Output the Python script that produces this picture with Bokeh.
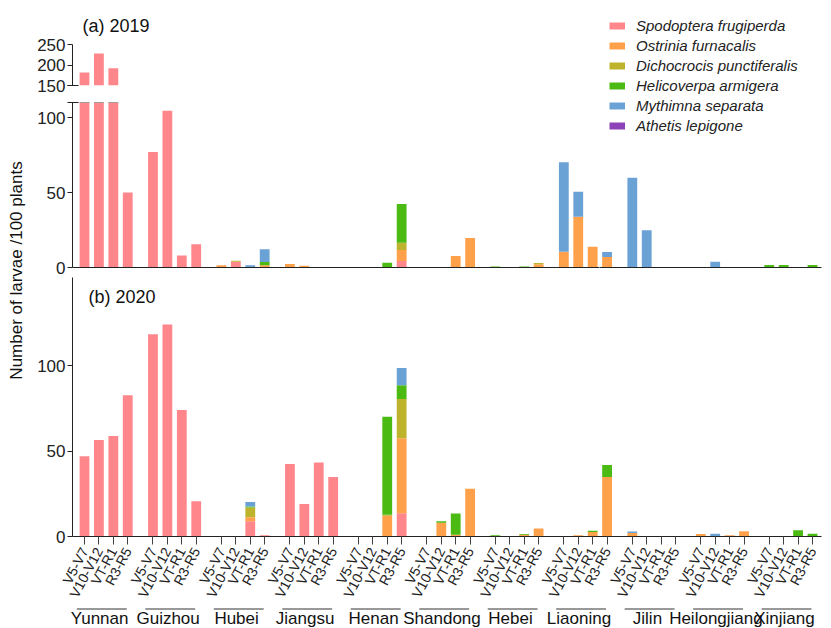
import math
from bokeh.plotting import figure
from bokeh.models import Range1d, FixedTicker, Label, Legend, LegendItem, ColumnDataSource
from bokeh.layouts import row, column
from bokeh.embed import file_html
from bokeh.resources import INLINE
from bokeh.core.properties import value

provinces = ["Yunnan", "Guizhou", "Hubei", "Jiangsu", "Henan", "Shandong",
             "Hebei", "Liaoning", "Jilin", "Heilongjiang", "Xinjiang"]
stages = ["V5-V7", "V10-V12", "VT-R1", "R3-R5"]
species = ["Spodoptera frugiperda", "Ostrinia furnacalis", "Dichocrocis punctiferalis",
           "Helicoverpa armigera", "Mythimna separata", "Athetis lepigone"]
colors = ["#FF878C", "#FFA04B", "#BDB32C", "#4BBA12", "#6BA2D6", "#8E42B8"]

# values per province (rows) and growth stage (V5-V7, V10-V12, VT-R1, R3-R5)
# ---------------- 2019 ----------------
sf_2019 = [182, 228, 192, 50,   77, 104.5, 8, 15.5,   0, 3.8, 0, 0,   0, 0, 0, 0,
           0, 0, 0, 4.3,   0, 0, 0, 0,   0, 0, 0, 0,   0, 0, 0, 0,
           0, 0, 0, 0,   0, 0, 0, 0,   0, 0, 0, 0]
of_2019 = [0, 0, 0, 0,   0, 0, 0, 0,   1.5, 0, 0, 1.5,   2.3, 1.1, 0, 0,
           0, 0, 0, 7.3,   0, 0, 7.6, 19.6,   0, 0, 0, 2.2,   10.5, 33.8, 13.8, 7,
           0, 0, 0, 0,   0, 0, 0, 0,   0, 0, 0, 0]
dp_2019 = [0, 0, 0, 0,   0, 0, 0, 0,   0, 0.7, 0, 0,   0, 0, 0, 0,
           0, 0, 0, 4.9,   0, 0, 0, 0,   0, 0, 0, 0.8,   0, 0, 0, 0,
           0, 0, 0, 0,   0, 0, 0, 0,   0, 0, 0, 0]
ha_2019 = [0, 0, 0, 0,   0, 0, 0, 0,   0, 0, 0, 2.2,   0, 0, 0, 0,
           0, 0, 3.2, 25.8,   0, 0, 0, 0,   0.7, 0, 0.7, 0,   0, 0, 0, 0,
           0, 0, 0, 0,   0, 0, 0, 0,   1.6, 1.6, 0, 1.6]
ms_2019 = [0, 0, 0, 0,   0, 0, 0, 0,   0, 0, 1.5, 8.4,   0, 0, 0, 0,
           0, 0, 0, 0,   0, 0, 0, 0,   0, 0, 0, 0,   59.7, 16.7, 0, 3.4,
           59.8, 24.9, 0, 0,   0, 3.8, 0, 0,   0, 0, 0, 0]
al_2019 = [0] * 44

# ---------------- 2020 ----------------
sf_2020 = [47, 56.5, 58.8, 82.6,   118.3, 124, 74, 20.6,   0, 0, 8.9, 0.8,   42.4, 19, 43.3, 34.8,
           0, 0, 0, 13.6,   0, 0, 0, 0,   0, 0, 0, 0,   0, 0, 0, 0,
           0, 0, 0, 0,   0, 0, 0, 0,   0, 0, 0, 0]
of_2020 = [0, 0, 0, 0,   0, 0, 0, 0,   0, 0, 2.3, 0,   0, 0, 0, 0,
           0, 0, 12.2, 43.9,   0, 8, 1, 28,   0, 0, 1, 4.7,   0, 0.8, 2.7, 34.8,
           2, 0, 0, 0,   1.5, 0, 0.8, 3,   0, 0, 0, 0]
dp_2020 = [0, 0, 0, 0,   0, 0, 0, 0,   0, 0, 5.8, 0,   0, 0, 0, 0,
           0, 0, 0.5, 22.9,   0, 0, 0, 0,   0, 0, 0, 0,   0, 0, 0, 0,
           0, 0, 0, 0,   0, 0, 0, 0,   0, 0, 0, 0]
ha_2020 = [0, 0, 0, 0,   0, 0, 0, 0,   0, 0, 0.5, 0,   0, 0, 0, 0,
           0, 0, 57.3, 8.1,   0, 0.9, 12.4, 0,   0.8, 0, 0.5, 0,   0, 0, 0.6, 7.1,
           0, 0, 0, 0,   0, 0, 0, 0,   0, 0, 3.7, 1.6]
ms_2020 = [0, 0, 0, 0,   0, 0, 0, 0,   0, 0, 2.7, 0,   0, 0, 0, 0,
           0, 0, 0, 10.1,   0, 0, 0, 0,   0, 0, 0, 0,   0, 0, 0, 0,
           0.9, 0, 0, 0,   0, 1.6, 0, 0,   0, 0, 0, 0]
al_2020 = [0] * 44

y_ticks_low = [0, 50, 100]
y_ticks_up = [150, 200, 250]
break_low = 110      # top of the lower (broken) axis segment
break_up = 150       # bottom of the upper axis segment

# ---------------- layout constants (page pixels) ----------------
FONT = "Liberation Sans"
INK = "#222222"
PX_PER_UNIT = 14.416   # horizontal pixels per bar slot
X_FIRST = 84.0         # page x of the first bar centre
GROUP_STEP = 4.75      # slots from one province to the next
BAR_W = 0.68
PAGE_W, PAGE_H = 831, 628
FRAME_L, FRAME_R, SPLIT = 72, 821, 599
COL_X = 30             # page x where the figure column starts
MAIN_W = PAGE_W - COL_X
UP_BOTTOM = 94         # page y where the upper-segment canvas ends
A_BOTTOM = 277         # page y where panel (a) canvases end
FB_BOTTOM = 607        # page y where the stage-label area ends


def ux(px):
    return (px - X_FIRST) / PX_PER_UNIT


keys = ["sf", "of", "dp", "ha", "ms", "al"]
xs = [g * GROUP_STEP + s for g in range(len(provinces)) for s in range(len(stages))]
data19 = dict(x=xs, **dict(zip(keys, [sf_2019, of_2019, dp_2019, ha_2019, ms_2019, al_2019])))
data20 = dict(x=xs, **dict(zip(keys, [sf_2020, of_2020, dp_2020, ha_2020, ms_2020, al_2020])))
totals19 = [sum(data19[k][i] for k in keys) for i in range(len(xs))]


def subset(d, idx):
    return ColumnDataSource({k: [v[i] for i in idx] for k, v in d.items()})


idx_left = [i for i, x in enumerate(xs) if x < ux(SPLIT)]
idx_right = [i for i, x in enumerate(xs) if x > ux(SPLIT)]
idx_up = [i for i in idx_left if totals19[i] > break_up]


def make_fig(width, height, xr, yr, left, right, top, bottom, show_x=True, show_y=True):
    p = figure(width=width, height=height, x_range=xr, y_range=yr, title=None,
               output_backend="svg", toolbar_location=None,
               min_border_left=left, min_border_right=right,
               min_border_top=top, min_border_bottom=bottom)
    p.xgrid.visible = False
    p.ygrid.visible = False
    p.outline_line_color = None
    p.background_fill_color = "white"
    p.border_fill_color = "white"
    if not show_x:
        p.xaxis.visible = False
    if not show_y:
        p.yaxis.visible = False
    return p


def style_yaxis(ax, ticks, minor):
    ax.ticker = FixedTicker(ticks=ticks, minor_ticks=minor)
    ax.axis_line_color = INK
    ax.major_tick_line_color = INK
    ax.minor_tick_line_color = INK
    ax.major_tick_out = 5
    ax.major_tick_in = 0
    ax.minor_tick_out = 5
    ax.minor_tick_in = 6
    ax.major_label_text_font = FONT
    ax.major_label_text_font_size = "17px"
    ax.major_label_text_color = INK
    ax.major_label_standoff = 2


def bare_xaxis(ax):
    ax.ticker = FixedTicker(ticks=[], minor_ticks=[])
    ax.axis_line_color = INK
    ax.major_tick_out = 0
    ax.major_tick_in = 0
    ax.minor_tick_out = 0
    ax.minor_tick_in = 0
    ax.major_label_standoff = 0


def bars(p, src):
    return p.vbar_stack(keys, x="x", width=BAR_W, color=colors, line_color=None, source=src)


# ---------------- panel (a) 2019 : broken axis ----------------
xr_left = Range1d(ux(FRAME_L), ux(SPLIT))
xr_right = Range1d(ux(SPLIT), ux(FRAME_R))
wl = SPLIT - COL_X
wr = MAIN_W - wl

# upper segment: 150 .. 250 at 0.41 px per unit, frame from page y 0 to 85
up_h = 85
fa_up = make_fig(wl, UP_BOTTOM, xr_left, Range1d(break_up, break_up + up_h / 0.41),
                 FRAME_L - COL_X, 0, 0, UP_BOTTOM - up_h, show_x=False)
bars(fa_up, subset(data19, idx_up))
style_yaxis(fa_up.yaxis[0], y_ticks_up, [break_up])
fa_up.yaxis[0].bounds = (break_up, 250)
fa_up.add_layout(Label(x=10, y=60, x_units="screen", y_units="screen", text="(a) 2019",
                       text_font=FONT, text_font_size="18px", text_color="#111111",
                       text_baseline="middle"))

# lower segment: 0 .. 110 at 1.5 px per unit, frame from page y 102 to 267
fa_low = make_fig(wl, A_BOTTOM - UP_BOTTOM, xr_left, Range1d(0, break_low), FRAME_L - COL_X, 0,
                  102 - UP_BOTTOM, A_BOTTOM - 267)
bars(fa_low, subset(data19, idx_left))
style_yaxis(fa_low.yaxis[0], y_ticks_low, [break_low])
fa_low.yaxis[0].bounds = (0, break_low)
bare_xaxis(fa_low.xaxis[0])

# right part of panel (a), same scale as the lower segment, holds the legend
fa_r = make_fig(wr, A_BOTTOM, xr_right, Range1d(0, 267 / 1.5), 0, PAGE_W - FRAME_R, 0,
                A_BOTTOM - 267, show_y=False)
bars(fa_r, subset(data19, idx_right))
bare_xaxis(fa_r.xaxis[0])
items = []
for name, c in zip(species, colors):
    r = fa_r.line(x=[float("nan")], y=[float("nan")], line_color=c, line_width=7)
    items.append(LegendItem(label=name, renderers=[r]))
legend = Legend(items=items, location=(10, 133), label_text_font=FONT,
                label_text_font_style="italic", label_text_font_size="15px",
                label_text_color=INK, glyph_width=16, glyph_height=17, label_height=17,
                spacing=3, padding=0, margin=0, label_standoff=11,
                border_line_color=None, background_fill_alpha=0)
fa_r.add_layout(legend)

# ---------------- panel (b) 2020 ----------------
xr_b = Range1d(ux(FRAME_L), ux(FRAME_R))
fb = make_fig(MAIN_W, FB_BOTTOM - A_BOTTOM, xr_b, Range1d(0, (537 - A_BOTTOM) / 1.716),
              FRAME_L - COL_X, PAGE_W - FRAME_R, 0, FB_BOTTOM - 537)
bars(fb, ColumnDataSource(data20))
style_yaxis(fb.yaxis[0], y_ticks_low, [])
xa = fb.xaxis[0]
xa.ticker = FixedTicker(ticks=xs, minor_ticks=[])
xa.major_label_overrides = {(int(v) if float(v).is_integer() else v): stages[i % len(stages)]
                            for i, v in enumerate(xs)}
xa.major_label_orientation = math.radians(62)
xa.axis_line_color = INK
xa.major_tick_line_color = "#444444"
xa.major_tick_out = 8
xa.major_tick_in = 0
xa.major_label_standoff = 4
xa.major_label_text_font = FONT
xa.major_label_text_font_size = "14px"
xa.major_label_text_color = INK
fb.add_layout(Label(x=16, y=240, x_units="screen", y_units="screen", text="(b) 2020",
                    text_font=FONT, text_font_size="18px", text_color="#111111",
                    text_baseline="middle"))

# ---------------- province underlines and names ----------------
fp_h = PAGE_H - FB_BOTTOM
fp = make_fig(PAGE_W, fp_h, Range1d(ux(0), ux(PAGE_W)), Range1d(0, fp_h),
              0, 0, 0, 0, show_x=False, show_y=False)
g0 = [g * GROUP_STEP for g in range(len(provinces))]
psrc = ColumnDataSource(dict(
    x0=[v - 0.53 for v in g0], x1=[v + 2.93 for v in g0],
    xc=[v + 1.05 for v in g0], yl=[PAGE_H - 608.5] * len(g0), yt=[PAGE_H - 618] * len(g0),
    name=provinces))
fp.segment(x0="x0", x1="x1", y0="yl", y1="yl", source=psrc, line_color="#333333", line_width=1)
fp.text(x="xc", y="yt", text="name", source=psrc, text_font=value(FONT), text_font_size="17px",
        text_align="center", text_baseline="middle", text_color="#111111")

# ---------------- shared y-axis title ----------------
fl = make_fig(COL_X, FB_BOTTOM, Range1d(0, 1), Range1d(0, 1), 0, 0, 0, 0, show_x=False, show_y=False)
fl.add_layout(Label(x=16, y=FB_BOTTOM - 270, x_units="screen", y_units="screen",
                    text="Number of larvae /100 plants", angle=math.pi / 2,
                    text_font=FONT, text_font_size="17px", text_color="#111111",
                    text_align="center", text_baseline="middle"))

layout = column(row(fl, column(row(column(fa_up, fa_low), fa_r), fb)), fp)
open("out.html", "w").write(file_html(layout, INLINE))
